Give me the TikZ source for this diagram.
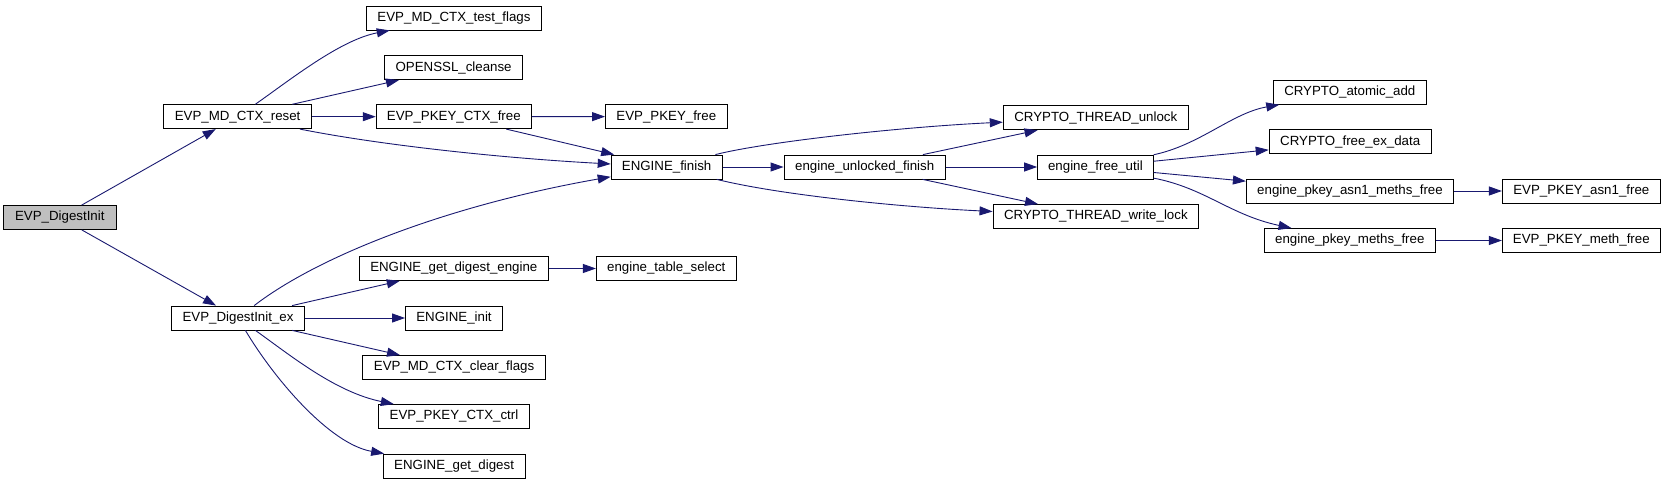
\documentclass[tikz,border=0pt]{standalone}
\usepackage{fontspec}
\setmainfont{Liberation Sans}
\usetikzlibrary{arrows.meta}
\definecolor{edgeblue}{HTML}{191970}
\definecolor{rootgrey}{HTML}{BFBFBF}
\begin{document}
\begin{tikzpicture}[x=1pt,y=-1pt,
  fn/.style={draw=black, fill=white, line width=0.8pt, minimum height=24pt, inner sep=0pt,
    font=\fontsize{13.3}{16}\selectfont},
  rootfn/.style={fn, fill=rootgrey},
  edge/.style={draw=edgeblue, line width=0.9pt, -{Triangle[length=13pt,width=9pt]}}]
\useasboundingbox (0,0) rectangle (1666,484);
% column 0
\node[rootfn, minimum width=113.2pt] (root) at (59.8,217.5) {EVP\_DigestInit};
% column 1
\node[fn, minimum width=147.5pt] (reset) at (237.6,116.7) {EVP\_MD\_CTX\_reset};
\node[fn, minimum width=132.5pt] (initex) at (238,318) {EVP\_DigestInit\_ex};
% column 2
\node[fn, minimum width=174.3pt] (testflags) at (454,18) {EVP\_MD\_CTX\_test\_flags};
\node[fn, minimum width=137.9pt] (cleanse) at (453.6,67.7) {OPENSSL\_cleanse};
\node[fn, minimum width=155.3pt] (pkctxfree) at (453.8,116.7) {EVP\_PKEY\_CTX\_free};
\node[fn, minimum width=188.9pt] (gde) at (453.8,268.5) {ENGINE\_get\_digest\_engine};
\node[fn, minimum width=97.1pt] (einit) at (454,318) {ENGINE\_init};
\node[fn, minimum width=182.5pt] (clear) at (454.1,367.5) {EVP\_MD\_CTX\_clear\_flags};
\node[fn, minimum width=150.7pt] (ctrl) at (454,416.5) {EVP\_PKEY\_CTX\_ctrl};
\node[fn, minimum width=141.8pt] (getdigest) at (454.1,466) {ENGINE\_get\_digest};
% column 3
\node[fn, minimum width=121.7pt] (pkfree) at (666.3,116.6) {EVP\_PKEY\_free};
\node[fn, minimum width=111pt] (finish) at (666.6,167) {ENGINE\_finish};
\node[fn, minimum width=140pt] (tsel) at (666.3,268.5) {engine\_table\_select};
% column 4
\node[fn, minimum width=161.5pt] (unl) at (864.7,167) {engine\_unlocked\_finish};
% column 5
\node[fn, minimum width=185.2pt] (unlock) at (1095.8,117.8) {CRYPTO\_THREAD\_unlock};
\node[fn, minimum width=115.7pt] (freeutil) at (1095.4,167) {engine\_free\_util};
\node[fn, minimum width=205.9pt] (wlock) at (1095.9,216.5) {CRYPTO\_THREAD\_write\_lock};
% column 6
\node[fn, minimum width=153.2pt] (atomic) at (1349.8,92.3) {CRYPTO\_atomic\_add};
\node[fn, minimum width=162.2pt] (exdata) at (1350.2,141.8) {CRYPTO\_free\_ex\_data};
\node[fn, minimum width=207.4pt] (asn1m) at (1350,191) {engine\_pkey\_asn1\_meths\_free};
\node[fn, minimum width=171.2pt] (pmeths) at (1349.8,240.5) {engine\_pkey\_meths\_free};
% column 7
\node[fn, minimum width=158pt] (asn1free) at (1581.3,191) {EVP\_PKEY\_asn1\_free};
\node[fn, minimum width=158pt] (methfree) at (1581.3,240.5) {EVP\_PKEY\_meth\_free};
% edges
\draw[edge] (root) -- (reset);
\draw[edge] (root) -- (initex);
\draw[edge] (reset) .. controls (290,80) and (340,40) .. (testflags);
\draw[edge] (reset) -- (cleanse);
\draw[edge] (reset) -- (pkctxfree);
\draw[edge] (reset) .. controls (380,145) and (500,158) .. (finish);
\draw[edge] (pkctxfree) -- (pkfree);
\draw[edge] (pkctxfree) -- (finish);
\draw[edge] (initex) .. controls (320,255) and (450,205) .. (finish);
\draw[edge] (initex) -- (gde);
\draw[edge] (initex) -- (einit);
\draw[edge] (initex) -- (clear);
\draw[edge] (initex) .. controls (290,355) and (335,392) .. (ctrl);
\draw[edge] (initex) .. controls (275,380) and (330,444) .. (getdigest);
\draw[edge] (gde) -- (tsel);
\draw[edge] (finish) .. controls (765,142) and (900,127) .. (unlock);
\draw[edge] (finish) -- (unl);
\draw[edge] (finish) .. controls (780,195) and (900,207) .. (wlock);
\draw[edge] (unl) -- (unlock);
\draw[edge] (unl) -- (freeutil);
\draw[edge] (unl) -- (wlock);
\draw[edge] (freeutil) .. controls (1200,145) and (1232,113) .. (atomic);
\draw[edge] (freeutil) -- (exdata);
\draw[edge] (freeutil) -- (asn1m);
\draw[edge] (freeutil) .. controls (1205,188) and (1230,215) .. (pmeths);
\draw[edge] (asn1m) -- (asn1free);
\draw[edge] (pmeths) -- (methfree);
\end{tikzpicture}
\end{document}
